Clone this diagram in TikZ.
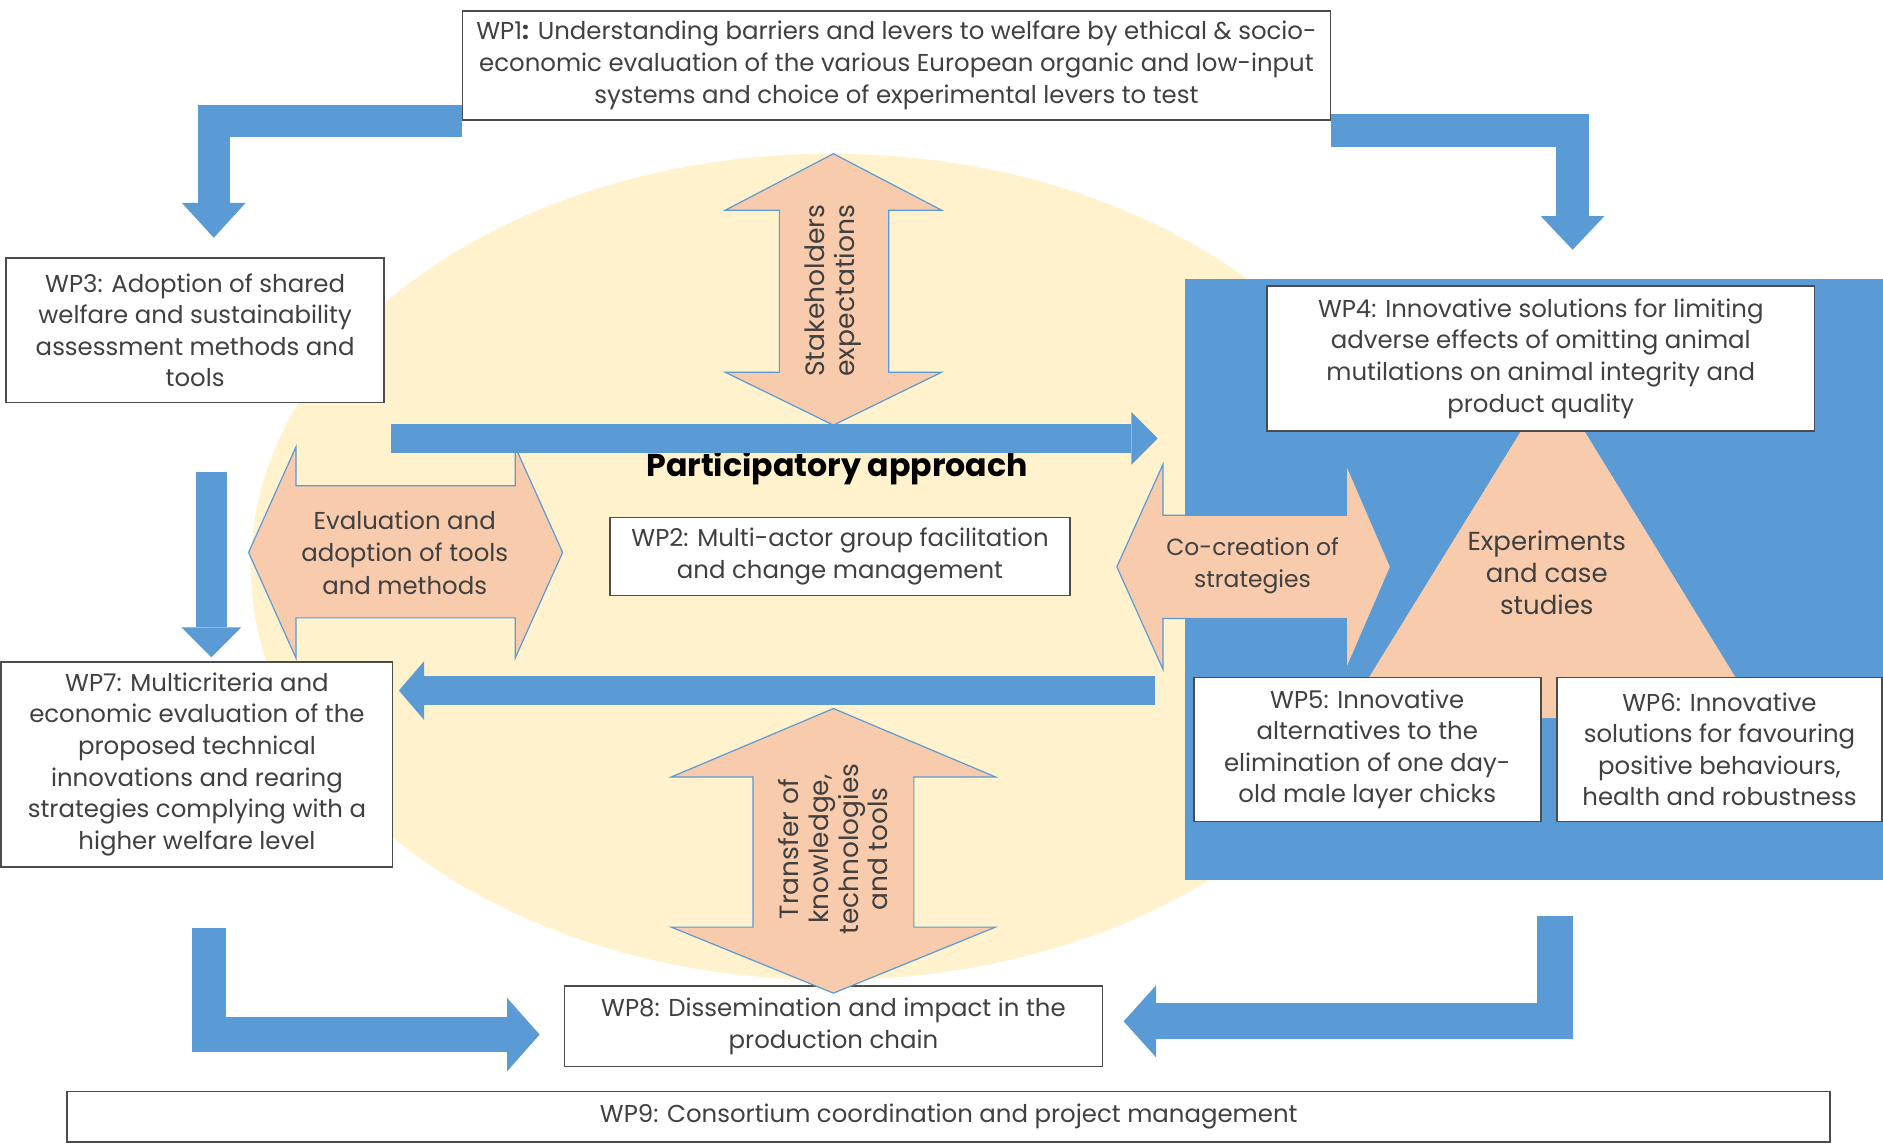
\documentclass[tikz,border=0pt]{standalone}
\usepackage{fontspec}
\setmainfont{Poppins}
\usetikzlibrary{arrows.meta,calc,positioning}

\definecolor{wpblue}{HTML}{5B9BD5}
\definecolor{wpsalmon}{HTML}{F8CBAD}
\definecolor{wpcream}{HTML}{FFF2CC}
\definecolor{wptext}{HTML}{404040}

\begin{document}
\begin{tikzpicture}[
    x=0.6pt, y=-0.6pt,
    wpbox/.style={rectangle, draw=black!70, line width=0.8pt, fill=white,
      align=center, inner sep=0pt, text=wptext,
      font=\fontsize{12.2}{15.8}\selectfont},
    pad/.style={fill=wpsalmon, draw=wpblue, line width=0.6pt, line join=miter},
    padtxt/.style={align=center, inner sep=0pt, text=wptext,
      font=\fontsize{12.2}{16.2}\selectfont},
    band/.style={draw=wpblue, line join=miter, line width=#1},
    tip/.style n args={2}{-{Triangle[length=#1, width=#2, line width=0pt]}}
  ]
    \useasboundingbox (0,0) rectangle (1568,954);

    % -- backdrop: participatory ellipse and experiment panel ------
    \fill[wpcream] (692,472) ellipse [x radius=289.8pt, y radius=206.4pt];
    \fill[wpblue] (987,232) rectangle (1568,733);
    \fill[wpsalmon] (1293,316) -- (1466,598) -- (1119,598) -- cycle;

    % -- work packages --------------------------------------------
    \node[wpbox, minimum width=433.8pt, minimum height=54.6pt] (wp1) at (746.5,54.5)
      {WP1\textbf{:} Understanding barriers and levers to welfare by ethical \& socio-\\
       economic evaluation of the various European organic and low-input\\
       systems and choice of experimental levers to test};
    \node[wpbox, minimum width=189pt, minimum height=72pt] (wp3) at (162.5,275)
      {WP3: Adoption of shared\\welfare and sustainability\\assessment methods and\\tools};
    \node[wpbox, minimum width=229.8pt, minimum height=39pt] (wp2) at (699.5,463.5)
      {WP2: Multi-actor group facilitation\\and change management};
    \node[wpbox, minimum width=195.6pt, minimum height=102.6pt] (wp7) at (164,636.5)
      {WP7: Multicriteria and\\economic evaluation of the\\proposed technical\\
       innovations and rearing\\strategies complying with a\\higher welfare level};
    \node[wpbox, minimum width=273.6pt, minimum height=72.6pt] (wp4) at (1283,298.5)
      {WP4: Innovative solutions for limiting\\adverse effects of omitting animal\\
       mutilations on animal integrity and\\product quality};
    \node[wpbox, minimum width=173.4pt, minimum height=72pt] (wp5) at (1138.5,624)
      {WP5: Innovative\\alternatives to the\\elimination of one day-\\old male layer chicks};
    \node[wpbox, minimum width=162.6pt, minimum height=72pt, right=7.2pt of wp5] (wp6)
      {WP6: Innovative\\solutions for favouring\\positive behaviours,\\health and robustness};
    \node[wpbox, minimum width=268.8pt, minimum height=40.2pt] (wp8) at (694,854.5)
      {WP8: Dissemination and impact in the\\production chain};
    \node[wpbox, minimum width=880.8pt, minimum height=25.2pt] (wp9) at (790,930)
      {WP9: Consortium coordination and project management};

    % -- two-way exchanges ----------------------------------------
    \draw[pad] (694,128) -- (784,175) -- (740,175) -- (740,310) -- (784,310) -- (694,354)
      -- (604,310) -- (649,310) -- (649,175) -- (604,175) -- cycle;
    \draw[pad] (694,590) -- (829,647) -- (761,647) -- (761,772) -- (829,772) -- (694,827)
      -- (559,772) -- (627,772) -- (627,647) -- (559,647) -- cycle;
    \draw[pad] (207,460) -- (246.5,372) -- (246.5,404.5) -- (429,404.5) -- (429,372)
      -- (468.5,460) -- (429,548) -- (429,514.5) -- (246.5,514.5) -- (246.5,548) -- cycle;
    \draw[pad] (930,472) -- (968.5,386.5) -- (968.5,429) -- (1121,429) -- (1121,386.5)
      -- (1158,472) -- (1121,557.5) -- (1121,515) -- (968.5,515) -- (968.5,557.5) -- cycle;

    \node[padtxt, rotate=90, font=\fontsize{13.3}{15}\selectfont] (stake) at (694,242)
      {Stakeholders\\expectations};
    \node[padtxt, rotate=90, font=\fontsize{13.2}{14.8}\selectfont] (transfer) at (694,707)
      {Transfer of\\knowledge,\\technologies\\and tools};
    \node[padtxt] (evalu) at (337,460) {Evaluation and\\adoption of tools\\and methods};
    \node[padtxt, font=\fontsize{11.7}{16.2}\selectfont] (cocre) at (1043,471)
      {Co-creation of\\strategies};
    \node[padtxt, font=\fontsize{13}{16}\selectfont] (exper) at (1288,477)
      {Experiments\\and case\\studies};
    \node[font=\fontsize{15.8}{18}\selectfont\bfseries] (partic) at (697,390)
      {Participatory approach};

    % -- flows between work packages ------------------------------
    \coordinate (to3)  at (178,198);
    \coordinate (to4)  at (1309.5,208);
    \coordinate (from3) at (176,393);
    \coordinate (upL)  at (326,365);
    \coordinate (upR)  at (964,365);
    \coordinate (loR)  at (962,575);
    \coordinate (from7) at (174,773);
    \coordinate (from5) at (1295,763);

    \draw[band=16.2pt, tip={17.4pt}{31.8pt}] (wp1.south west) -| (to3);
    \draw[band=16.8pt, tip={16.8pt}{31.8pt}] ($(wp1.south east)+(0,8)$) -| (to4);
    \draw[band=15.6pt, tip={15pt}{30pt}] (from3) -- ($(from3 |- wp7.north)+(0,-3)$);
    \draw[band=14.4pt, tip={13.2pt}{26.4pt}] (upL) -- (upR);
    \draw[band=14.4pt, tip={12.6pt}{29.4pt}] (loR) -- ($(wp7.east |- loR)+(4.5,0)$);
    \draw[band=17.1pt, tip={16.2pt}{36.6pt}] (from7) |- ($(wp8.west)+(-20,7)$);
    \draw[band=18pt, tip={16.2pt}{36pt}] (from5) |- ($(wp8.east)+(17,-4)$);
\end{tikzpicture}
\end{document}
